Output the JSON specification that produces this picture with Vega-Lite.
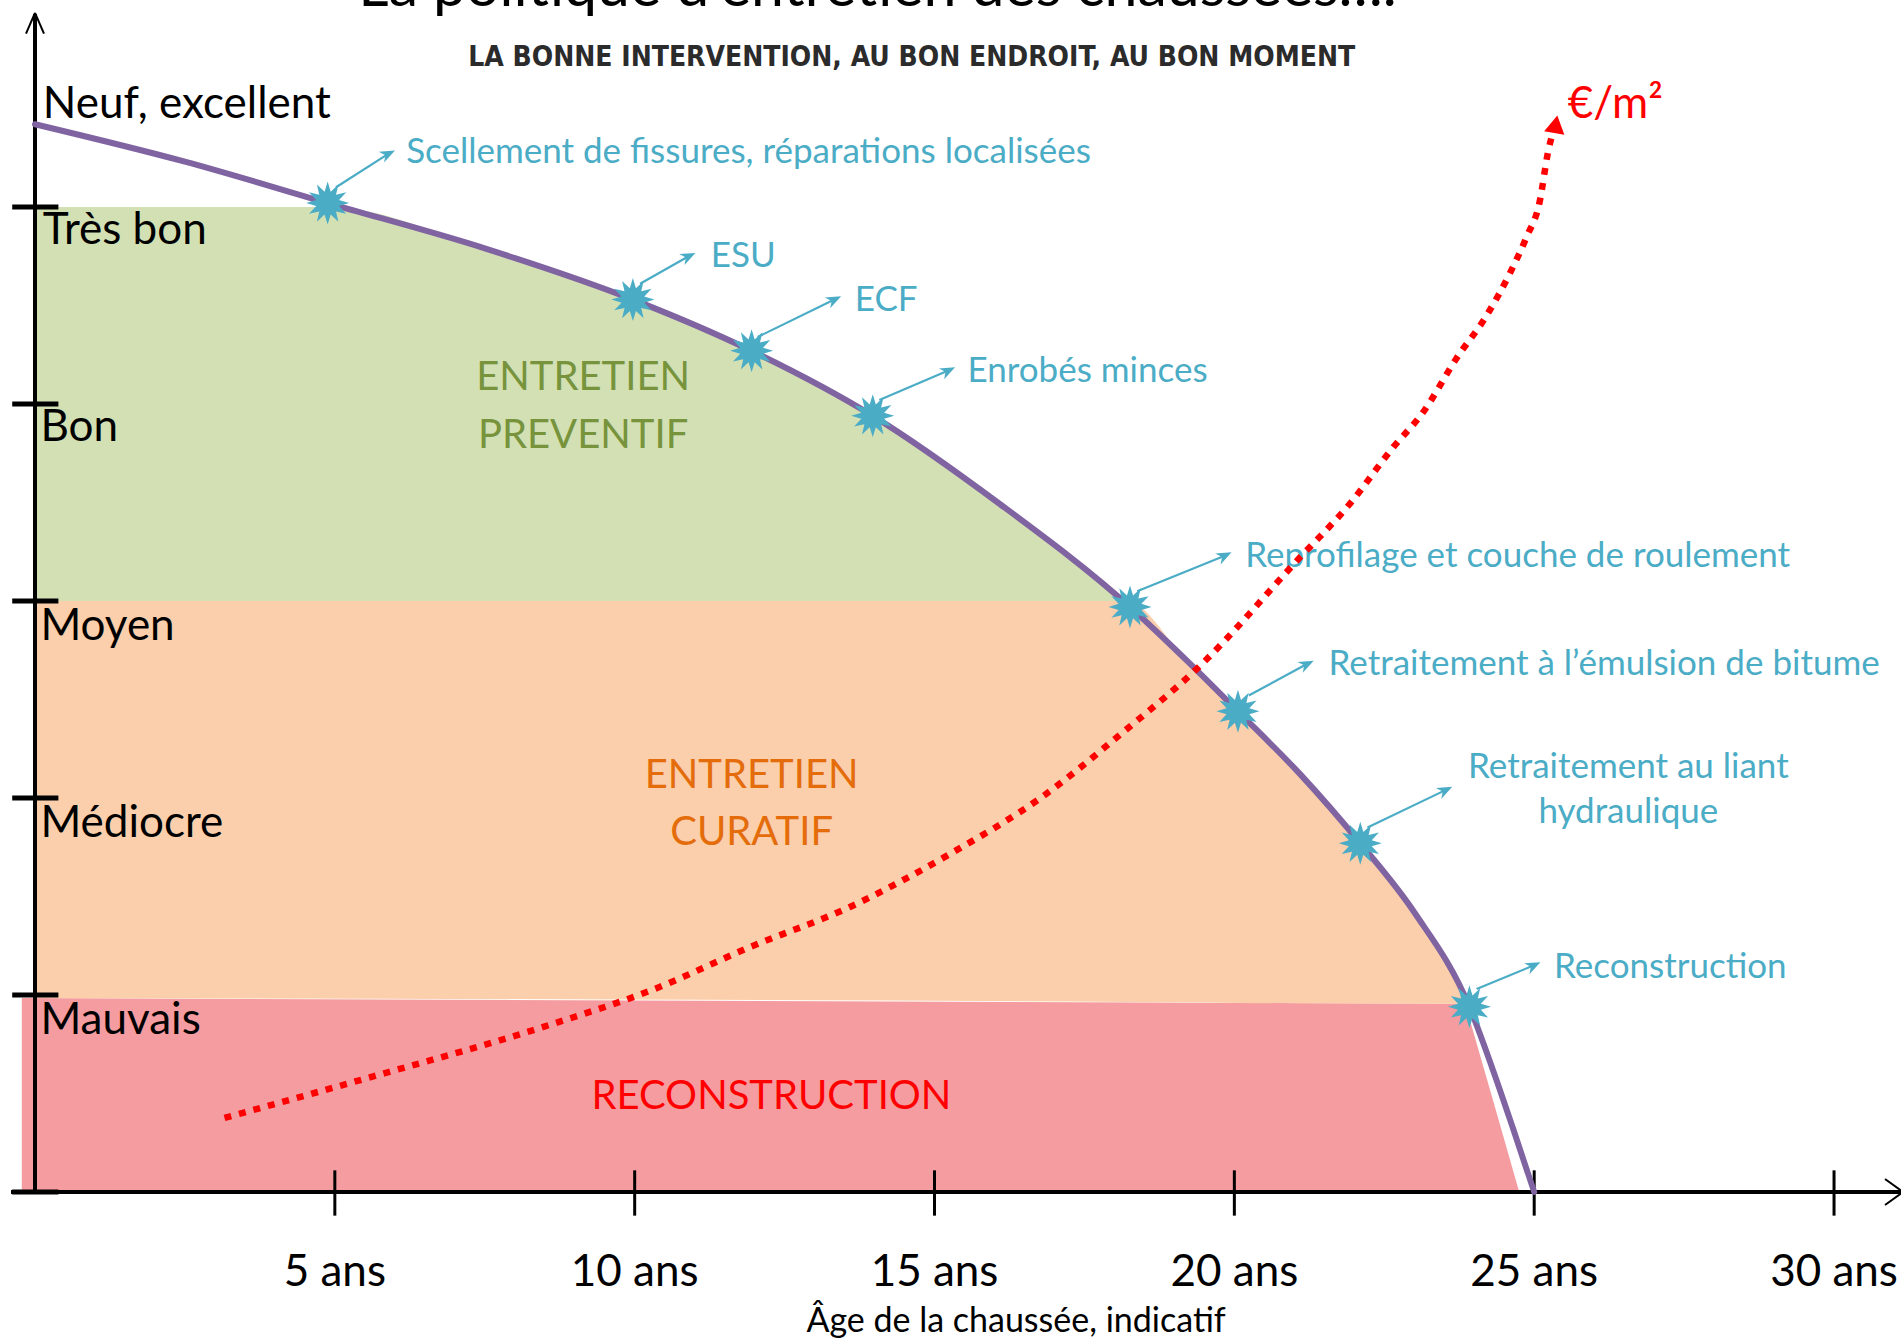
{
  "$schema": "https://vega.github.io/schema/vega-lite/v6.json",
  "width": 1865,
  "height": 1182,
  "autosize": {"type": "none"},
  "padding": {"left": 35, "top": 10, "right": 1, "bottom": 146},
  "background": "white",
  "config": {"view": {"stroke": null}, "font": "Lato"},
  "datasets": {
    "curve": [
      {"x": 0, "y": 5.42}, {"x": 2.5, "y": 5.23}, {"x": 4.88, "y": 5.02}, {"x": 7.5, "y": 4.79},
      {"x": 9.97, "y": 4.53}, {"x": 11.95, "y": 4.27}, {"x": 13.97, "y": 3.94}, {"x": 16.1, "y": 3.49},
      {"x": 18.26, "y": 2.97}, {"x": 19.2, "y": 2.7}, {"x": 20.06, "y": 2.44}, {"x": 21.1, "y": 2.12},
      {"x": 22.1, "y": 1.77}, {"x": 23.0, "y": 1.42}, {"x": 23.92, "y": 0.94},
      {"x": 24.3, "y": 0.63}, {"x": 24.65, "y": 0.32}, {"x": 25.0, "y": 0}
    ],
    "green": [
      {"x": 0, "y": 5, "y2": 3}, {"x": 4.88, "y": 5, "y2": 3}, {"x": 7.5, "y": 4.79, "y2": 3},
      {"x": 9.97, "y": 4.53, "y2": 3}, {"x": 11.95, "y": 4.27, "y2": 3}, {"x": 13.97, "y": 3.94, "y2": 3},
      {"x": 16.1, "y": 3.49, "y2": 3}, {"x": 18.2, "y": 3, "y2": 3}
    ],
    "orange": [
      {"x": 0, "y": 3, "y2": 0.985}, {"x": 18.2, "y": 3, "y2": 0.965}, {"x": 19.2, "y": 2.7, "y2": 0.963},
      {"x": 20.06, "y": 2.44, "y2": 0.96}, {"x": 21.1, "y": 2.12, "y2": 0.958}, {"x": 22.1, "y": 1.77, "y2": 0.957},
      {"x": 23.0, "y": 1.42, "y2": 0.956}, {"x": 23.9, "y": 0.955, "y2": 0.955}
    ],
    "red": [
      {"x": -0.22, "y": 0.985, "y2": 0}, {"x": 23.85, "y": 0.955, "y2": 0},
      {"x": 24.3, "y": 0.48, "y2": 0}, {"x": 24.75, "y": 0, "y2": 0}
    ],
    "cost": [
      {"x": 3.16, "y": 0.376}, {"x": 5.48, "y": 0.573}, {"x": 8.6, "y": 0.85}, {"x": 10.26, "y": 1.022},
      {"x": 11.93, "y": 1.244}, {"x": 13.59, "y": 1.447}, {"x": 15.27, "y": 1.718}, {"x": 16.8, "y": 2.007},
      {"x": 18.12, "y": 2.328}, {"x": 19.43, "y": 2.672}, {"x": 21.09, "y": 3.22}, {"x": 21.92, "y": 3.491},
      {"x": 22.65, "y": 3.781}, {"x": 23.15, "y": 3.959}, {"x": 23.7, "y": 4.23}, {"x": 24.2, "y": 4.446},
      {"x": 24.59, "y": 4.661}, {"x": 24.87, "y": 4.846}, {"x": 25.09, "y": 5.025}, {"x": 25.23, "y": 5.277},
      {"x": 25.33, "y": 5.4}
    ],
    "costHead": [{"x": 25.36, "y": 5.42}],
    "stars": [
      {"x": 4.88, "y": 5.02}, {"x": 9.97, "y": 4.53}, {"x": 11.95, "y": 4.27}, {"x": 13.97, "y": 3.94},
      {"x": 18.26, "y": 2.97}, {"x": 20.06, "y": 2.44}, {"x": 22.1, "y": 1.77}, {"x": 23.92, "y": 0.94}
    ],
    "arrows": [
      {"x": 5.02, "y": 5.1, "x2": 5.89, "y2": 5.27}, {"x": 10.09, "y": 4.61, "x2": 10.9, "y2": 4.75},
      {"x": 12.05, "y": 4.34, "x2": 13.33, "y2": 4.53}, {"x": 14.08, "y": 4.02, "x2": 15.23, "y2": 4.17},
      {"x": 18.38, "y": 3.05, "x2": 19.84, "y2": 3.23}, {"x": 20.24, "y": 2.52, "x2": 21.21, "y2": 2.68},
      {"x": 22.22, "y": 1.85, "x2": 23.52, "y2": 2.04}, {"x": 24.04, "y": 1.03, "x2": 24.99, "y2": 1.15}
    ],
    "axes": [
      {"kind": "line", "x": 0, "y": 0, "x2": 0, "y2": 5.98},
      {"kind": "line", "x": -0.4, "y": 0, "x2": 31.15, "y2": 0},
      {"kind": "ytick", "x": -0.38, "y": 0, "x2": 0.39, "y2": 0},
      {"kind": "ytick", "x": -0.38, "y": 1, "x2": 0.39, "y2": 1},
      {"kind": "ytick", "x": -0.38, "y": 2, "x2": 0.39, "y2": 2},
      {"kind": "ytick", "x": -0.38, "y": 3, "x2": 0.39, "y2": 3},
      {"kind": "ytick", "x": -0.38, "y": 4, "x2": 0.39, "y2": 4},
      {"kind": "ytick", "x": -0.38, "y": 5, "x2": 0.39, "y2": 5},
      {"kind": "xtick", "x": 5, "y": -0.12, "x2": 5, "y2": 0.11},
      {"kind": "xtick", "x": 10, "y": -0.12, "x2": 10, "y2": 0.11},
      {"kind": "xtick", "x": 15, "y": -0.12, "x2": 15, "y2": 0.11},
      {"kind": "xtick", "x": 20, "y": -0.12, "x2": 20, "y2": 0.11},
      {"kind": "xtick", "x": 25, "y": -0.12, "x2": 25, "y2": 0.11},
      {"kind": "xtick", "x": 30, "y": -0.12, "x2": 30, "y2": 0.11},
      {"kind": "head", "x": -0.15, "y": 5.88, "x2": 0, "y2": 5.985},
      {"kind": "head", "x": 0.15, "y": 5.88, "x2": 0, "y2": 5.985},
      {"kind": "head", "x": 30.85, "y": 0.066, "x2": 31.15, "y2": 0},
      {"kind": "head", "x": 30.85, "y": -0.066, "x2": 31.15, "y2": 0}
    ],
    "xLabels": [
      {"t": "5 ans", "x": 5, "y": -0.41}, {"t": "10 ans", "x": 10, "y": -0.41}, {"t": "15 ans", "x": 15, "y": -0.41},
      {"t": "20 ans", "x": 20, "y": -0.41}, {"t": "25 ans", "x": 25, "y": -0.41}, {"t": "30 ans", "x": 30, "y": -0.41}
    ],
    "xTitle": [{"t": "Âge de la chaussée, indicatif", "x": 16.36, "y": -0.66}],
    "levelLabels": [
      {"t": "Neuf, excellent", "x": 0.13, "y": 5.52}, {"t": "Très bon", "x": 0.13, "y": 4.88},
      {"t": "Bon", "x": 0.09, "y": 3.88}, {"t": "Moyen", "x": 0.09, "y": 2.87},
      {"t": "Médiocre", "x": 0.09, "y": 1.87}, {"t": "Mauvais", "x": 0.09, "y": 0.87}
    ],
    "tealLabels": [
      {"t": "Scellement de fissures, réparations localisées", "x": 6.19, "y": 5.28},
      {"t": "ESU", "x": 11.27, "y": 4.75},
      {"t": "ECF", "x": 13.67, "y": 4.53},
      {"t": "Enrobés minces", "x": 15.55, "y": 4.17},
      {"t": "Reprofilage et couche de roulement", "x": 20.18, "y": 3.23},
      {"t": "Retraitement à l’émulsion de bitume", "x": 21.57, "y": 2.68},
      {"t": "Reconstruction", "x": 25.33, "y": 1.14}
    ],
    "tealCentered": [
      {"t": "Retraitement au liant", "x": 26.57, "y": 2.155},
      {"t": "hydraulique", "x": 26.57, "y": 1.93}
    ],
    "regionLabels": [
      {"t": "ENTRETIEN", "x": 9.14, "y": 4.13, "region": "preventif"},
      {"t": "PREVENTIF", "x": 9.14, "y": 3.84, "region": "preventif"},
      {"t": "ENTRETIEN", "x": 11.95, "y": 2.11, "region": "curatif"},
      {"t": "CURATIF", "x": 11.95, "y": 1.82, "region": "curatif"},
      {"t": "RECONSTRUCTION", "x": 12.28, "y": 0.48, "region": "reconstruction"}
    ],
    "title": [{"t": "La politique d’entretien des chaussées….", "x": 14.05, "y": 6.02}],
    "subtitle": [{"t": "LA BONNE INTERVENTION, AU BON ENDROIT, AU BON MOMENT", "x": 14.62, "y": 5.757}],
    "costLabel": [{"t": "€/m²", "x": 25.56, "y": 5.52}]
  },
  "layer": [
    {
      "data": {"name": "red"},
      "mark": {"type": "area", "color": "#f59ca0", "opacity": 1},
      "encoding": {
        "x": {"field": "x", "type": "quantitative", "scale": {"domain": [0, 31.1], "nice": false, "zero": false}, "axis": null},
        "y": {"field": "y", "type": "quantitative", "scale": {"domain": [0, 6], "nice": false, "zero": false}, "axis": null},
        "y2": {"field": "y2"}
      }
    },
    {
      "data": {"name": "orange"},
      "mark": {"type": "area", "color": "#fbcfab", "opacity": 1, "interpolate": "monotone"},
      "encoding": {
        "x": {"field": "x", "type": "quantitative", "scale": {"domain": [0, 31.1], "nice": false, "zero": false}, "axis": null},
        "y": {"field": "y", "type": "quantitative", "scale": {"domain": [0, 6], "nice": false, "zero": false}, "axis": null},
        "y2": {"field": "y2"}
      }
    },
    {
      "data": {"name": "green"},
      "mark": {"type": "area", "color": "#d3e0b4", "opacity": 1, "interpolate": "monotone"},
      "encoding": {
        "x": {"field": "x", "type": "quantitative", "scale": {"domain": [0, 31.1], "nice": false, "zero": false}, "axis": null},
        "y": {"field": "y", "type": "quantitative", "scale": {"domain": [0, 6], "nice": false, "zero": false}, "axis": null},
        "y2": {"field": "y2"}
      }
    },
    {
      "data": {"name": "axes"},
      "transform": [{"filter": "datum.kind == 'line'"}],
      "mark": {"type": "rule", "color": "#000000", "strokeWidth": 4},
      "encoding": {
        "x": {"field": "x", "type": "quantitative", "scale": {"domain": [0, 31.1], "nice": false, "zero": false}, "axis": null},
        "y": {"field": "y", "type": "quantitative", "scale": {"domain": [0, 6], "nice": false, "zero": false}, "axis": null},
        "x2": {"field": "x2"}, "y2": {"field": "y2"}
      }
    },
    {
      "data": {"name": "axes"},
      "transform": [{"filter": "datum.kind == 'ytick'"}],
      "mark": {"type": "rule", "color": "#000000", "strokeWidth": 5},
      "encoding": {
        "x": {"field": "x", "type": "quantitative", "scale": {"domain": [0, 31.1], "nice": false, "zero": false}, "axis": null},
        "y": {"field": "y", "type": "quantitative", "scale": {"domain": [0, 6], "nice": false, "zero": false}, "axis": null},
        "x2": {"field": "x2"}, "y2": {"field": "y2"}
      }
    },
    {
      "data": {"name": "axes"},
      "transform": [{"filter": "datum.kind == 'xtick'"}],
      "mark": {"type": "rule", "color": "#000000", "strokeWidth": 3},
      "encoding": {
        "x": {"field": "x", "type": "quantitative", "scale": {"domain": [0, 31.1], "nice": false, "zero": false}, "axis": null},
        "y": {"field": "y", "type": "quantitative", "scale": {"domain": [0, 6], "nice": false, "zero": false}, "axis": null},
        "x2": {"field": "x2"}, "y2": {"field": "y2"}
      }
    },
    {
      "data": {"name": "axes"},
      "transform": [{"filter": "datum.kind == 'head'"}],
      "mark": {"type": "rule", "color": "#000000", "strokeWidth": 2},
      "encoding": {
        "x": {"field": "x", "type": "quantitative", "scale": {"domain": [0, 31.1], "nice": false, "zero": false}, "axis": null},
        "y": {"field": "y", "type": "quantitative", "scale": {"domain": [0, 6], "nice": false, "zero": false}, "axis": null},
        "x2": {"field": "x2"}, "y2": {"field": "y2"}
      }
    },
    {
      "data": {"name": "xLabels"},
      "mark": {"type": "text", "font": "Lato", "fontSize": 44, "align": "center", "baseline": "middle", "color": "#000000"},
      "encoding": {
        "x": {"field": "x", "type": "quantitative", "scale": {"domain": [0, 31.1], "nice": false, "zero": false}, "axis": null},
        "y": {"field": "y", "type": "quantitative", "scale": {"domain": [0, 6], "nice": false, "zero": false}, "axis": null},
        "text": {"field": "t"}
      }
    },
    {
      "data": {"name": "xTitle"},
      "mark": {"type": "text", "font": "Lato", "fontSize": 34, "align": "center", "baseline": "middle", "color": "#000000"},
      "encoding": {
        "x": {"field": "x", "type": "quantitative", "scale": {"domain": [0, 31.1], "nice": false, "zero": false}, "axis": null},
        "y": {"field": "y", "type": "quantitative", "scale": {"domain": [0, 6], "nice": false, "zero": false}, "axis": null},
        "text": {"field": "t"}
      }
    },
    {
      "data": {"name": "regionLabels"},
      "mark": {"type": "text", "font": "Lato", "fontSize": 40, "align": "center", "baseline": "middle"},
      "encoding": {
        "x": {"field": "x", "type": "quantitative", "scale": {"domain": [0, 31.1], "nice": false, "zero": false}, "axis": null},
        "y": {"field": "y", "type": "quantitative", "scale": {"domain": [0, 6], "nice": false, "zero": false}, "axis": null},
        "text": {"field": "t"},
        "color": {"field": "region", "type": "nominal", "legend": null,
          "scale": {"domain": ["preventif", "curatif", "reconstruction"], "range": ["#77933C", "#E46C0A", "#FF0000"]}}
      }
    },
    {
      "data": {"name": "levelLabels"},
      "mark": {"type": "text", "font": "Lato", "fontSize": 44, "align": "left", "baseline": "middle", "color": "#000000"},
      "encoding": {
        "x": {"field": "x", "type": "quantitative", "scale": {"domain": [0, 31.1], "nice": false, "zero": false}, "axis": null},
        "y": {"field": "y", "type": "quantitative", "scale": {"domain": [0, 6], "nice": false, "zero": false}, "axis": null},
        "text": {"field": "t"}
      }
    },
    {
      "data": {"name": "tealLabels"},
      "mark": {"type": "text", "font": "Lato", "fontSize": 35, "align": "left", "baseline": "middle", "color": "#4BACC6"},
      "encoding": {
        "x": {"field": "x", "type": "quantitative", "scale": {"domain": [0, 31.1], "nice": false, "zero": false}, "axis": null},
        "y": {"field": "y", "type": "quantitative", "scale": {"domain": [0, 6], "nice": false, "zero": false}, "axis": null},
        "text": {"field": "t"}
      }
    },
    {
      "data": {"name": "tealCentered"},
      "mark": {"type": "text", "font": "Lato", "fontSize": 35, "align": "center", "baseline": "middle", "color": "#4BACC6"},
      "encoding": {
        "x": {"field": "x", "type": "quantitative", "scale": {"domain": [0, 31.1], "nice": false, "zero": false}, "axis": null},
        "y": {"field": "y", "type": "quantitative", "scale": {"domain": [0, 6], "nice": false, "zero": false}, "axis": null},
        "text": {"field": "t"}
      }
    },
    {
      "data": {"name": "curve"},
      "mark": {"type": "line", "color": "#8064A2", "strokeWidth": 6, "interpolate": "monotone", "strokeCap": "round"},
      "encoding": {
        "x": {"field": "x", "type": "quantitative", "scale": {"domain": [0, 31.1], "nice": false, "zero": false}, "axis": null},
        "y": {"field": "y", "type": "quantitative", "scale": {"domain": [0, 6], "nice": false, "zero": false}, "axis": null}
      }
    },
    {
      "data": {"name": "arrows"},
      "mark": {"type": "rule", "color": "#4BACC6", "strokeWidth": 2.2},
      "encoding": {
        "x": {"field": "x", "type": "quantitative", "scale": {"domain": [0, 31.1], "nice": false, "zero": false}, "axis": null},
        "y": {"field": "y", "type": "quantitative", "scale": {"domain": [0, 6], "nice": false, "zero": false}, "axis": null},
        "x2": {"field": "x2"}, "y2": {"field": "y2"}
      }
    },
    {
      "data": {"name": "arrows"},
      "mark": {"type": "point", "shape": "M1,0L-1,-0.8L-0.4,0L-1,0.8Z", "filled": true, "color": "#4BACC6", "size": 230, "angle": 334, "opacity": 1},
      "encoding": {
        "x": {"field": "x2", "type": "quantitative", "scale": {"domain": [0, 31.1], "nice": false, "zero": false}, "axis": null},
        "y": {"field": "y2", "type": "quantitative", "scale": {"domain": [0, 6], "nice": false, "zero": false}, "axis": null}
      }
    },
    {
      "data": {"name": "stars"},
      "mark": {"type": "point", "shape": "M1,0L0.531,0.142L0.866,0.5L0.389,0.389L0.5,0.866L0.142,0.531L0,1L-0.142,0.531L-0.5,0.866L-0.389,0.389L-0.866,0.5L-0.531,0.142L-1,0L-0.531,-0.142L-0.866,-0.5L-0.389,-0.389L-0.5,-0.866L-0.142,-0.531L0,-1L0.142,-0.531L0.5,-0.866L0.389,-0.389L0.866,-0.5L0.531,-0.142Z", "filled": true, "color": "#4BACC6", "size": 1850, "opacity": 1},
      "encoding": {
        "x": {"field": "x", "type": "quantitative", "scale": {"domain": [0, 31.1], "nice": false, "zero": false}, "axis": null},
        "y": {"field": "y", "type": "quantitative", "scale": {"domain": [0, 6], "nice": false, "zero": false}, "axis": null}
      }
    },
    {
      "data": {"name": "cost"},
      "mark": {"type": "line", "color": "#FF0000", "strokeWidth": 6.5, "strokeDash": [7, 8], "interpolate": "monotone"},
      "encoding": {
        "x": {"field": "x", "type": "quantitative", "scale": {"domain": [0, 31.1], "nice": false, "zero": false}, "axis": null},
        "y": {"field": "y", "type": "quantitative", "scale": {"domain": [0, 6], "nice": false, "zero": false}, "axis": null}
      }
    },
    {
      "data": {"name": "costHead"},
      "mark": {"type": "point", "shape": "triangle-up", "filled": true, "color": "#FF0000", "size": 420, "angle": 10, "opacity": 1},
      "encoding": {
        "x": {"field": "x", "type": "quantitative", "scale": {"domain": [0, 31.1], "nice": false, "zero": false}, "axis": null},
        "y": {"field": "y", "type": "quantitative", "scale": {"domain": [0, 6], "nice": false, "zero": false}, "axis": null}
      }
    },
    {
      "data": {"name": "costLabel"},
      "mark": {"type": "text", "font": "Lato", "fontSize": 44, "align": "left", "baseline": "middle", "color": "#FF0000"},
      "encoding": {
        "x": {"field": "x", "type": "quantitative", "scale": {"domain": [0, 31.1], "nice": false, "zero": false}, "axis": null},
        "y": {"field": "y", "type": "quantitative", "scale": {"domain": [0, 6], "nice": false, "zero": false}, "axis": null},
        "text": {"field": "t"}
      }
    },
    {
      "data": {"name": "title"},
      "mark": {"type": "text", "font": "Lato", "fontSize": 59, "align": "center", "baseline": "alphabetic", "color": "#000000"},
      "encoding": {
        "x": {"field": "x", "type": "quantitative", "scale": {"domain": [0, 31.1], "nice": false, "zero": false}, "axis": null},
        "y": {"field": "y", "type": "quantitative", "scale": {"domain": [0, 6], "nice": false, "zero": false}, "axis": null},
        "text": {"field": "t"}
      }
    },
    {
      "data": {"name": "subtitle"},
      "mark": {"type": "text", "font": "Liberation Sans Narrow, DejaVu Sans Condensed, Liberation Sans, sans-serif", "fontWeight": "bold", "fontSize": 28, "align": "center", "baseline": "middle", "color": "#2b2b2b"},
      "encoding": {
        "x": {"field": "x", "type": "quantitative", "scale": {"domain": [0, 31.1], "nice": false, "zero": false}, "axis": null},
        "y": {"field": "y", "type": "quantitative", "scale": {"domain": [0, 6], "nice": false, "zero": false}, "axis": null},
        "text": {"field": "t"}
      }
    }
  ]
}
